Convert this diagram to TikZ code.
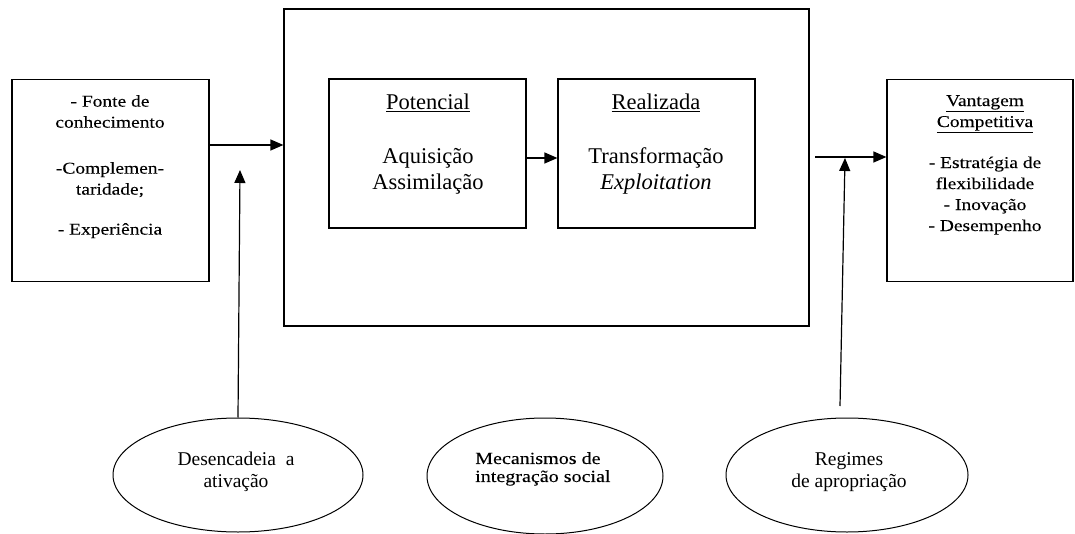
\documentclass[tikz,border=0pt]{standalone}
\usepackage{fontspec}
\setmainfont{Liberation Serif}
\newfontfamily\widefont[FakeStretch=1.18,FakeBold=0.1]{Liberation Serif}
\usetikzlibrary{arrows.meta,shapes.geometric}

\begin{document}
\begin{tikzpicture}[x=1pt,y=-1pt,
  box/.style={draw, line width=1.2pt, inner sep=0pt},
  oval/.style={draw, ellipse, line width=1pt, inner sep=0pt},
  arr/.style={line width=1.2pt, -{Triangle[length=13pt,width=11pt]}},
  sidetext/.style={align=center, inner sep=0pt, anchor=north,
    font=\widefont\fontsize{16.5}{21}\selectfont},
  maintext/.style={align=center, inner sep=0pt, anchor=north,
    font=\fontsize{22.5}{26}\selectfont},
  ovaltext/.style={align=center, inner sep=0pt, anchor=north,
    font=\fontsize{19.5}{22}\selectfont}
]
\useasboundingbox (0,0) rectangle (1075,534);

% boxes
\node[box, minimum width=197pt, minimum height=202pt] (lbox) at (110.5,180.5) {};
\node[box, minimum width=525pt, minimum height=317pt] (big) at (546.5,167.5) {};
\node[box, minimum width=197pt, minimum height=149pt] (pot) at (427.5,153.5) {};
\node[box, minimum width=197pt, minimum height=149pt] (real) at (656.5,153.5) {};
\node[box, minimum width=186pt, minimum height=202pt] (rbox) at (980,180.5) {};

% ellipses
\node[oval, minimum width=250pt, minimum height=114pt] (e1) at (238,475) {};
\node[oval, minimum width=236pt, minimum height=116pt] (e2) at (545,476) {};
\node[oval, minimum width=242pt, minimum height=114pt] (e3) at (847,475) {};

% texts
\node[sidetext] (ltext) at (110,95) {- Fonte de\\conhecimento\\[25pt]-Complemen-\\taridade;\\[19pt]- Experiência};
\node[sidetext] (rtext) at (985,95) {\underline{Vantagem}\\\underline{Competitiva}\\[20pt]- Estratégia de\\flexibilidade\\- Inovação\\- Desempenho};
\node[maintext] (pottext) at (428,94) {\underline{Potencial}\\[28pt]Aquisição\\Assimilação};
\node[maintext] (realtext) at (656,94) {\underline{Realizada}\\[28pt]Transformação\\\textit{Exploitation}};
\node[ovaltext] (e1text) at (236,452) {Desencadeia~ a\\ativação};
\node[sidetext, align=left, anchor=north west, font=\widefont\fontsize{17}{18}\selectfont] (e2text) at (475,452) {Mecanismos de\\integração social};
\node[ovaltext] (e3text) at (849,452) {Regimes\\de apropriação};

% connector ends
\coordinate (y1) at (0,145);
\coordinate (y2) at (0,158);
\coordinate (y3) at (0,157);
\coordinate (s3) at (815,157);
\coordinate (t1) at (240,170);
\coordinate (s2) at (840,406);
\coordinate (t2) at (845,158);

% connectors
\draw[arr] (lbox.east |- y1) -- (big.west |- y1);
\draw[arr] (pot.east |- y2) -- (real.west |- y2);
\draw[arr] (s3) -- (rbox.west |- y3);
\draw[arr] (e1.north) -- (t1);
\draw[arr] (s2) -- (t2);
\end{tikzpicture}
\end{document}
